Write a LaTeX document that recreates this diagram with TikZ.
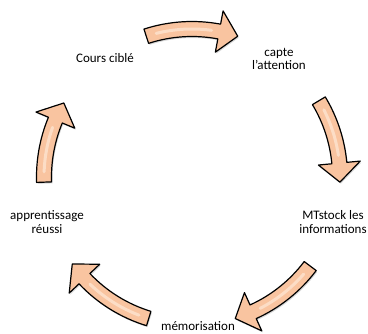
\documentclass[tikz,border=0pt]{standalone}
\usepackage{fontspec}
\setmainfont{Carlito}
\usetikzlibrary{shadows,positioning}
\definecolor{peach}{RGB}{249,196,160}
\definecolor{peachlight}{RGB}{253,228,208}

\begin{document}
\begin{tikzpicture}[x=1pt,y=1pt,
    cyclelabel/.style={align=center,inner sep=0pt,font=\fontsize{13}{13.5}\selectfont},
    cyclearrow/.style={fill=peach,draw=black,line width=1.2pt,line join=round,
      drop shadow={opacity=0.3,shadow xshift=1pt,shadow yshift=-1.5pt}},
    gloss/.style={peachlight,line width=3pt,line cap=round,opacity=0.8}]
        \def\R{148}
        \def\w{7.5}
        \def\h{21}
        \def\hl{7.4}
        \useasboundingbox (0,0) rectangle (368,334);
        \coordinate (c) at (192,157);
        %Labels
        \node[cyclelabel] (cours) at (105,276) {Cours ciblé};
        \node[cyclelabel] (capte) at (279,275) {capte\\l'attention};
        \node[cyclelabel] (stock) at (333,112) {MTstock les\\informations};
        \node[cyclelabel] (memo) at (198,8) {mémorisation};
        \node[cyclelabel] (reussi) at (47,112) {apprentissage\\réussi};
        %Arrows
        \begin{scope}[shift={(c)}]
        \foreach \s/\e in {108/72,31/-2,-37/-73,-107/-144,182/150}{
          \pgfmathsetmacro\b{\e+\hl}
          \draw[cyclearrow] (\s:\R+\w) arc[start angle=\s,end angle=\b,radius=\R+\w]
            -- (\b:\R+\h) -- (\e:\R) -- (\b:\R-\h) -- (\b:\R-\w)
            arc[start angle=\b,end angle=\s,radius=\R-\w] -- cycle;
          \draw[gloss] (\s-4:\R) arc[start angle=\s-4,end angle=\b+3,radius=\R];
        }
        \end{scope}
      \end{tikzpicture}
\end{document}
